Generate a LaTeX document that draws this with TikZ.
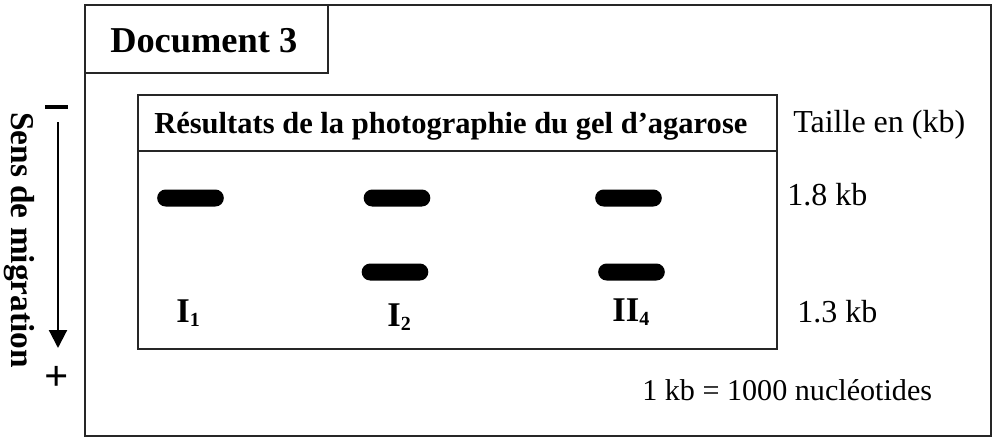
\documentclass[tikz,border=0pt]{standalone}
\usepackage{fontspec}
\setmainfont{Liberation Serif}
\usetikzlibrary{arrows.meta,shapes.misc}
\newcommand{\lanesub}[1]{\raisebox{-3pt}{\fontsize{15}{15}\selectfont #1}}
\tikzset{
  frame/.style={draw=black!85, line width=1.6pt},
  band/.style={rounded rectangle, fill=black, draw=none, inner sep=0pt,
               minimum width=50pt, minimum height=12.75pt},
  txt/.style={inner sep=0pt, anchor=base west},
  lane/.style={txt, font=\fontsize{26}{28}\selectfont\bfseries},
  size/.style={txt, font=\fontsize{24}{26}\selectfont},
}
\begin{document}
\begin{tikzpicture}[x=0.75pt, y=-0.75pt]
\useasboundingbox (0,0) rectangle (996,440);
% outer frame and title box
\draw[frame] (85,5) rectangle (991,436);
\draw[frame] (85,5) rectangle (328,73);
\node[txt, font=\fontsize{27.3}{30}\selectfont\bfseries] (doc) at (110,52) {Document 3};
% gel box
\draw[frame] (138,95) rectangle (777,349);
\draw[frame, line width=1.3pt] (138,151) -- (777,151);
\node[txt, font=\fontsize{22.9}{25}\selectfont\bfseries] (head) at (154,133) {Résultats de la photographie du gel d’agarose};
% bands
\node[band] (b1) at (190.5,198) {};
\node[band] (b2a) at (397,198) {};
\node[band] (b2b) at (395,272) {};
\node[band] (b3a) at (628.5,198) {};
\node[band] (b3b) at (631.5,272) {};
% lane labels
\node[lane] (l1) at (176,322) {I\lanesub{1}};
\node[lane] (l2) at (387,326) {I\lanesub{2}};
\node[lane] (l3) at (612,321) {II\lanesub{4}};
% sizes
\node[size] (taille) at (793,132) {Taille en (kb)};
\node[size] (s18) at (787,205) {1.8 kb};
\node[size] (s13) at (797,322) {1.3 kb};
\node[txt, font=\fontsize{22.6}{25}\selectfont] (kb) at (642,400) {1 kb = 1000 nucléotides};
% migration direction
\node[inner sep=0pt] (minus) at (56.5,107) {\rule{17.25pt}{3pt}};
\coordinate (atop) at (58,122);
\coordinate (abot) at (58,348);
\draw[line width=1.6pt, -{Triangle[width=13.5pt,length=13.5pt]}] (atop) -- (abot);
\node[inner sep=0pt, font=\fontsize{32}{34}\selectfont\bfseries] (plus) at (56.5,378) {+};
\node[inner sep=0pt, anchor=base, rotate=-90, font=\fontsize{25}{27}\selectfont\bfseries] (sens) at (12,240) {Sens de migration};
\end{tikzpicture}
\end{document}
